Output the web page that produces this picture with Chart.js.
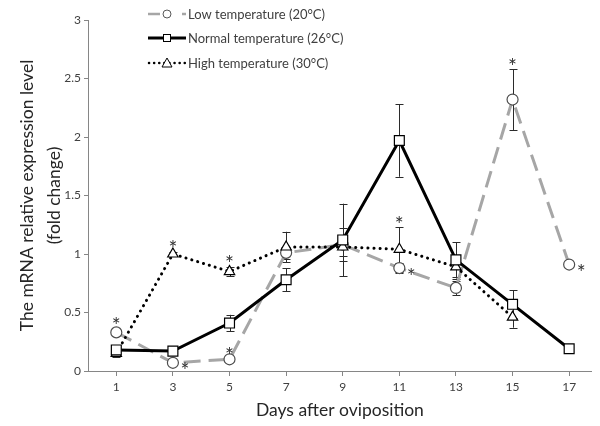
<!DOCTYPE html>
<html><head><meta charset="utf-8">
<script src="https://cdn.jsdelivr.net/npm/chart.js@4/dist/chart.umd.min.js"></script>
<style>html,body{margin:0;padding:0;background:#fff}</style>
</head><body>
<canvas id="c" width="600" height="426" style="width:600px;height:426px"></canvas>
<script>
// ---- data ----
const days = [1, 3, 5, 7, 9, 11, 13, 15, 17];
const lowTemp    = [0.33, 0.07, 0.10, 1.01, 1.08, 0.88, 0.71, 2.32, 0.91];
const lowErr     = [0.00, 0.01, 0.01, 0.05, 0.14, 0.04, 0.06, 0.26, 0.00];
const normalTemp = [0.18, 0.17, 0.41, 0.78, 1.12, 1.97, 0.95, 0.57, 0.19];
const normalErr  = [0.02, 0.02, 0.07, 0.10, 0.31, 0.31, 0.15, 0.12, 0.04];
const highTemp   = [0.15, 1.00, 0.85, 1.06, 1.06, 1.04, 0.89, 0.46, null];
const highErr    = [0.03, 0.02, 0.04, 0.13, 0.08, 0.19, 0.10, 0.09, 0.00];
const yTicks = [0, 0.5, 1, 1.5, 2, 2.5, 3];
const seriesNames = ['Low temperature (20°C)', 'Normal temperature (26°C)', 'High temperature (30°C)'];
const yTitle = ['The mRNA relative expression level', '(fold change)'];
const xTitle = 'Days after oviposition';
// significance marks: series, day, placement
const asterisks = [
  {s: 'low', day: 1, place: 'above'},
  {s: 'low', day: 3, place: 'right'},
  {s: 'low', day: 5, place: 'above'},
  {s: 'high', day: 3, place: 'above'},
  {s: 'high', day: 5, place: 'above'},
  {s: 'high', day: 11, place: 'above'},
  {s: 'low', day: 11, place: 'right'},
  {s: 'low', day: 15, place: 'above'},
  {s: 'low', day: 17, place: 'right'}
];

const FONT = 'Lato, "Open Sans", sans-serif';
const toXY = arr => days.map((d, i) => ({x: d, y: arr[i]}));
const seriesMap = {
  low: {vals: lowTemp, err: lowErr},
  normal: {vals: normalTemp, err: normalErr},
  high: {vals: highTemp, err: highErr}
};

const errorBarPlugin = {
  id: 'errbars',
  beforeDatasetsDraw(chart) {
    const ctx = chart.ctx, xs = chart.scales.x, ys = chart.scales.y;
    ctx.save();
    ctx.strokeStyle = '#2b2b2b';
    ctx.lineWidth = 1;
    ['low', 'high', 'normal'].forEach(k => {
      const {vals, err} = seriesMap[k];
      vals.forEach((v, i) => {
        if (v == null || !err[i]) return;
        const x = Math.round(xs.getPixelForValue(days[i])) + 0.5;
        const y1 = ys.getPixelForValue(v + err[i]);
        const y2 = ys.getPixelForValue(v - err[i]);
        ctx.beginPath();
        ctx.moveTo(x, y1); ctx.lineTo(x, y2);
        ctx.moveTo(x - 4, Math.round(y1) + 0.5); ctx.lineTo(x + 4, Math.round(y1) + 0.5);
        ctx.moveTo(x - 4, Math.round(y2) + 0.5); ctx.lineTo(x + 4, Math.round(y2) + 0.5);
        ctx.stroke();
      });
    });
    ctx.restore();
  }
};

const asteriskPlugin = {
  id: 'asterisks',
  afterDatasetsDraw(chart) {
    const ctx = chart.ctx, xs = chart.scales.x, ys = chart.scales.y;
    ctx.save();
    ctx.fillStyle = '#333';
    ctx.font = '21px ' + FONT;
    ctx.textAlign = 'center';
    ctx.textBaseline = 'alphabetic';
    const m = ctx.measureText('*');
    const adj = (m.actualBoundingBoxAscent - m.actualBoundingBoxDescent) / 2;
    asterisks.forEach(a => {
      const {vals, err} = seriesMap[a.s];
      const i = days.indexOf(a.day);
      const px = xs.getPixelForValue(a.day);
      let x, y;
      if (a.place === 'above') {
        x = px; y = ys.getPixelForValue(vals[i] + err[i]) - (err[i] ? 8 : 12);
      } else {
        x = px + 12; y = ys.getPixelForValue(vals[i]) + 3;
      }
      ctx.fillText('*', x, y + adj);
    });
    ctx.restore();
  }
};

const legendPlugin = {
  id: 'customLegend',
  afterDraw(chart) {
    const ctx = chart.ctx;
    const rows = [14, 38, 63];
    const x0 = 148, x1 = 186, xm = 167;
    ctx.save();
    // low
    ctx.strokeStyle = '#a6a6a6'; ctx.lineWidth = 2.5; ctx.setLineDash([12, 22]);
    ctx.beginPath(); ctx.moveTo(x0, rows[0]); ctx.lineTo(x1, rows[0]); ctx.stroke();
    ctx.setLineDash([]);
    ctx.fillStyle = '#fff'; ctx.strokeStyle = '#595959'; ctx.lineWidth = 1;
    ctx.beginPath(); ctx.arc(xm, rows[0], 4, 0, Math.PI * 2); ctx.fill(); ctx.stroke();
    // normal
    ctx.strokeStyle = '#000'; ctx.lineWidth = 3;
    ctx.beginPath(); ctx.moveTo(x0, rows[1]); ctx.lineTo(x1, rows[1]); ctx.stroke();
    ctx.fillStyle = '#fff'; ctx.strokeStyle = '#000'; ctx.lineWidth = 1;
    ctx.fillRect(xm - 4, rows[1] - 4, 8, 8); ctx.strokeRect(xm - 3.5, rows[1] - 3.5, 7, 7);
    // high
    ctx.strokeStyle = '#000'; ctx.lineWidth = 2.5; ctx.lineCap = 'round'; ctx.setLineDash([0.1, 5]);
    ctx.beginPath(); ctx.moveTo(x0 + 1, rows[2]); ctx.lineTo(x1, rows[2]); ctx.stroke();
    ctx.setLineDash([]); ctx.lineCap = 'butt';
    ctx.fillStyle = '#fff'; ctx.strokeStyle = '#000'; ctx.lineWidth = 1;
    ctx.beginPath(); ctx.moveTo(xm, rows[2] - 5); ctx.lineTo(xm + 5, rows[2] + 4); ctx.lineTo(xm - 5, rows[2] + 4); ctx.closePath();
    ctx.fill(); ctx.stroke();
    // text
    ctx.fillStyle = '#404040'; ctx.font = '13px ' + FONT;
    ctx.textAlign = 'left'; ctx.textBaseline = 'middle';
    seriesNames.forEach((t, i) => ctx.fillText(t, 188, rows[i] + 1));
    ctx.restore();
  }
};

new Chart(document.getElementById('c'), {
  type: 'line',
  data: {
    datasets: [
      {
        label: seriesNames[1], data: toXY(normalTemp),
        borderColor: '#000', borderWidth: 3, pointStyle: 'rect', pointRadius: 7,
        pointBackgroundColor: '#fff', pointBorderColor: '#000', pointBorderWidth: 1.2
      },
      {
        label: seriesNames[2], data: toXY(highTemp),
        borderColor: '#000', borderWidth: 3, borderDash: [0.1, 6], borderCapStyle: 'round',
        pointStyle: 'triangle', pointRadius: 6,
        pointBackgroundColor: '#fff', pointBorderColor: '#000', pointBorderWidth: 1.2
      },
      {
        label: seriesNames[0], data: toXY(lowTemp),
        borderColor: '#a6a6a6', borderWidth: 3, borderDash: [17, 8],
        pointStyle: 'circle', pointRadius: 5.5,
        pointBackgroundColor: '#fff', pointBorderColor: '#4d4d4d', pointBorderWidth: 1.2
      }
    ]
  },
  options: {
    responsive: false, animation: false,
    layout: {padding: {top: 20, left: 0, right: 0, bottom: 0}},
    plugins: {legend: {display: false}, tooltip: {enabled: false}},
    elements: {line: {tension: 0, fill: false}},
    scales: {
      x: {
        type: 'linear', min: 0, max: 17.8,
        afterBuildTicks: s => { s.ticks = days.map(v => ({value: v})); },
        afterFit: s => { s.height = 55; },
        grid: {display: true, drawOnChartArea: false, drawTicks: true, tickLength: 5, color: '#868686'},
        border: {display: true, color: '#868686', width: 1},
        ticks: {color: '#404040', font: {family: FONT, size: 12}, padding: 4, maxRotation: 0,
                callback: v => String(v)},
        title: {display: true, text: xTitle, color: '#262626', font: {family: FONT, size: 17.5},
                padding: {top: 2, bottom: 5}}
      },
      y: {
        min: 0, max: 3,
        afterBuildTicks: s => { s.ticks = yTicks.map(v => ({value: v})); },
        afterFit: s => { s.width = 88; },
        grid: {display: true, drawOnChartArea: false, drawTicks: true, tickLength: 4, color: '#868686'},
        border: {display: true, color: '#868686', width: 1},
        ticks: {color: '#404040', font: {family: FONT, size: 12}, padding: 3, callback: v => String(v)},
        title: {display: true, text: yTitle, color: '#262626', font: {family: FONT, size: 17.5, lineHeight: 1.55},
                padding: {top: 14, bottom: 0}}
      }
    }
  },
  plugins: [errorBarPlugin, asteriskPlugin, legendPlugin]
});
</script>
</body></html>
